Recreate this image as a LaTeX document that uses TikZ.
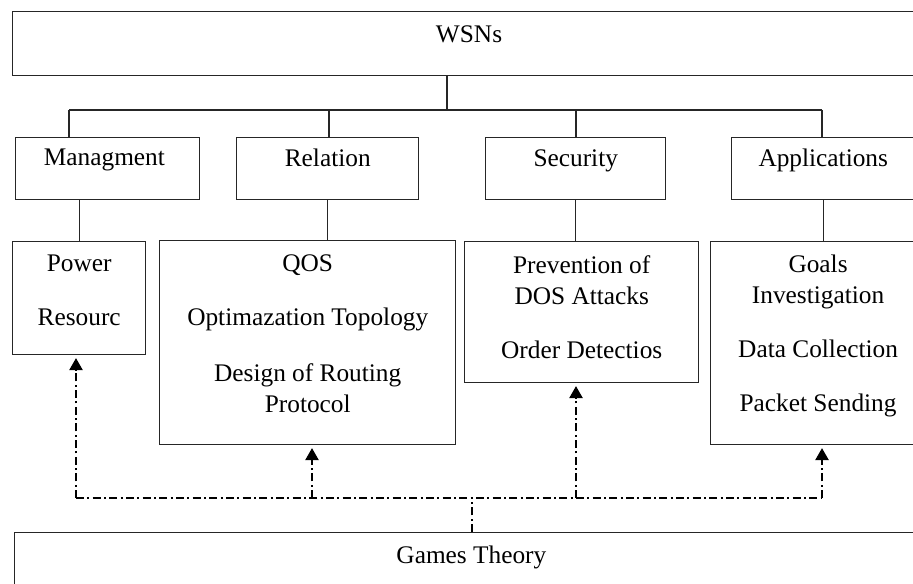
\documentclass[tikz,border=0pt]{standalone}
\usepackage{fontspec}
\setmainfont{Liberation Serif}
\usetikzlibrary{arrows.meta,positioning}

\begin{document}
\begin{tikzpicture}[x=0.75pt,y=-0.75pt,
      box_st/.style={
         rectangle,
         draw=black!85,
         line width=1.1pt,
         inner sep=0pt,
         anchor=north west},
      text_st/.style={
         font=\fontsize{19}{23.25}\selectfont,
         align=center,
         inner sep=0pt,
         anchor=north},
      line_black/.style={
         draw=black!85,
         line width=1.1pt,
        },
      line_dash/.style={
         line width=1.1pt,
         dash pattern=on 6pt off 2.5pt on 1.5pt off 2.5pt,
        },
      arrow_dash/.style={
         line_dash,
         -{Triangle[width=10pt,length=9pt]},
         shorten >=2pt,
        }
]
      \useasboundingbox (0,0) rectangle (913,584);
      \clip (0,0) rectangle (913,584);

      %top
      \node[box_st,minimum width=688.5pt,minimum height=48pt] (wsn) at (12,11) {};
      \node[text_st,below=10.5pt of wsn.north,xshift=-2pt] (wsn_t) {WSNs};

      %second row
      \node[box_st,minimum width=138pt,minimum height=46.5pt] (mgmt) at (15,137) {};
      \node[box_st,minimum width=136.5pt,minimum height=46.5pt] (rel) at (236,137) {};
      \node[box_st,minimum width=135pt,minimum height=46.5pt] (sec) at (485,137) {};
      \node[box_st,minimum width=137.25pt,minimum height=46.5pt] (app) at (731,137) {};

      \node[text_st,below=9pt of mgmt.north,xshift=-2.5pt] (mgmt_t) {Managment};
      \node[text_st,below=9pt of rel.north] (rel_t) {Relation};
      \node[text_st,below=9pt of sec.north] (sec_t) {Security};
      \node[text_st,below=9pt of app.north] (app_t) {Applications};

      %third row
      \node[box_st,minimum width=99.75pt,minimum height=84.75pt] (pow) at (12,241) {};
      \node[box_st,minimum width=222pt,minimum height=153pt] (qos) at (159,240) {};
      \node[box_st,minimum width=175.5pt,minimum height=105.75pt] (dos) at (464,241) {};
      \node[box_st,minimum width=165pt,minimum height=152.25pt] (goal) at (710,241) {};

      \node[text_st,below=10.5pt of pow.north] (pow_t) {Power\\[17.25pt]Resourc};
      \node[text_st,below=10.5pt of qos.north] (qos_t) {QOS\\[17.25pt]Optimazation Topology\\[18.75pt]Design of Routing\\Protocol};
      \node[text_st,below=10.5pt of dos.north] (dos_t) {Prevention of\\DOS Attacks\\[17.25pt]Order Detectios};
      \node[text_st,below=10.5pt of goal.north,xshift=-2pt] (goal_t) {Goals\\Investigation\\[17.25pt]Data Collection\\[17.25pt]Packet Sending};

      %bottom
      \node[box_st,minimum width=687pt,minimum height=52pt] (game) at (14,532) {};
      \node[text_st,below=9.9pt of game.north,xshift=-1pt] (game_t) {Games Theory};

      %tree lines
      \coordinate (wsn_bus) at (447,110);
      \coordinate (drop_m) at (69,110);
      \coordinate (drop_r) at (329,110);
      \coordinate (drop_s) at (576,110);
      \coordinate (drop_a) at (822,110);
      \draw[line_black] (wsn_bus |- wsn.south) -- (wsn_bus);
      \draw[line_black] (drop_m) -- (drop_a);
      \foreach \c/\n in {drop_m/mgmt, drop_r/rel, drop_s/sec, drop_a/app}
        \draw[line_black] (\c) -- (\c |- \n.north);

      \draw[line_black] (pow.north) -- (pow.north |- mgmt.south);
      \foreach \a/\b in {rel/qos, sec/dos, app/goal}
        \draw[line_black] (\a.south) -- (\a.south |- \b.north);

      %games theory links
      \coordinate (game_hub) at (472,498);
      \coordinate (up_p) at (76,498);
      \coordinate (up_q) at (312,498);
      \coordinate (up_d) at (576,498);
      \coordinate (up_g) at (822,498);
      \draw[line_dash] (game_hub |- game.north) -- (game_hub);
      \draw[line_dash] (up_p) -- (up_g);
      \foreach \c/\n in {up_p/pow, up_q/qos, up_d/dos, up_g/goal}
        \draw[arrow_dash] (\c) -- (\c |- \n.south);

\end{tikzpicture}
\end{document}
